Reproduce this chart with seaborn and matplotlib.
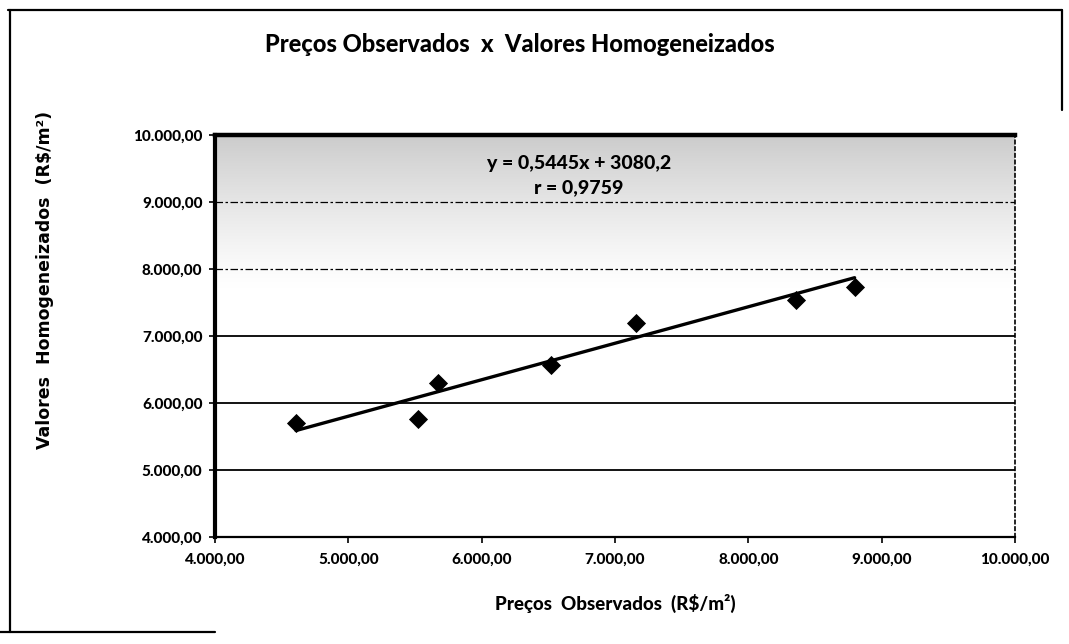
import numpy as np
import pandas as pd
import matplotlib
matplotlib.use("Agg")
import matplotlib.pyplot as plt
from matplotlib.lines import Line2D
import seaborn as sns

# Observed prices vs. homogenized values (R$/m²)
precos_observados = [4608, 5524, 5674, 6522, 7161, 8354, 8797]
valores_homogeneizados = [5696, 5757, 6295, 6565, 7193, 7537, 7732]

# Linear trend line as stated in the equation label
coef_angular = 0.5445
coef_linear = 3080.2
coef_r = 0.9759

ticks = [4000, 5000, 6000, 7000, 8000, 9000, 10000]
tick_labels = ["4.000,00", "5.000,00", "6.000,00", "7.000,00",
               "8.000,00", "9.000,00", "10.000,00"]

sns.set_theme(style="white")
plt.rcParams["font.family"] = ["Lato", "DejaVu Sans"]
plt.rcParams["text.color"] = "black"
plt.rcParams["xtick.color"] = "black"
plt.rcParams["ytick.color"] = "black"
plt.rcParams["axes.labelcolor"] = "black"

HEAVY = 900

fig = plt.figure(figsize=(10.69, 6.44), dpi=100)
ax = fig.add_axes([215 / 1069, 1 - 537 / 644, 800 / 1069, 402 / 644])

# Plot area background: gray at the top fading to white
yy = np.linspace(0, 1, 400)[:, None]
shade = np.clip((yy - 0.62) / 0.38, 0, 1) ** 1.2
val = 1 - 0.2 * shade
img = np.repeat(val, 2, axis=1)
rgb = np.dstack([img, img, img])
ax.imshow(rgb, extent=[4000, 10000, 4000, 10000], origin="lower",
          aspect="auto", zorder=0, interpolation="bilinear")

# Horizontal gridlines
for t in ticks[1:-1]:
    if t <= 7000:
        ax.axhline(t, color="black", lw=1.3, zorder=1)
    else:
        ax.axhline(t, color="black", lw=0.9, ls=(0, (6, 2, 2, 2)), zorder=1)

df = pd.DataFrame({"x": precos_observados, "y": valores_homogeneizados})
xl = np.array([min(precos_observados), max(precos_observados)])
trend = pd.DataFrame({"x": xl, "y": coef_angular * xl + coef_linear})
sns.lineplot(data=trend, x="x", y="y", color="black", lw=2.4, ax=ax, zorder=3)
sns.scatterplot(data=df, x="x", y="y", marker="D", s=95, color="black",
                edgecolor="black", linewidth=0, ax=ax, zorder=4)

ax.set_xlim(4000, 10000)
ax.set_ylim(4000, 10000)
ax.set_xticks(ticks)
ax.set_yticks(ticks)
ax.set_xticklabels(tick_labels, fontweight=HEAVY, fontsize=11)
ax.set_yticklabels(tick_labels, fontweight=HEAVY, fontsize=11)
ax.tick_params(axis="both", which="both", length=4, width=1.2, color="black",
               direction="out", pad=5)
ax.tick_params(axis="x", pad=7)
ax.xaxis.set_ticks_position("bottom")
ax.yaxis.set_ticks_position("left")

for side, lw in [("left", 3.0), ("top", 3.2), ("bottom", 1.6), ("right", 1.2)]:
    ax.spines[side].set_visible(True)
    ax.spines[side].set_color("black")
    ax.spines[side].set_linewidth(lw)
ax.spines["right"].set_linestyle((0, (2, 2)))

ax.set_xlabel("Preços  Observados  (R$/m²)", fontweight=HEAVY, fontsize=13.5,
              labelpad=20)
ax.set_ylabel("")
fig.text(45 / 1069, 1 - 280 / 644, "Valores  Homogeneizados  (R$/m²)",
         rotation=90, ha="center", va="center", fontweight="bold",
         fontsize=12.5, family=["DejaVu Sans"])

eq = f"y = {coef_angular:.4f}x + {coef_linear:.1f}".replace(".", ",")
rr = f"r = {coef_r:.4f}".replace(".", ",")
ax.text(0.455, 0.93, eq, transform=ax.transAxes, ha="center", va="center",
        fontweight=HEAVY, fontsize=14)
ax.text(0.455, 0.87, rr, transform=ax.transAxes, ha="center", va="center",
        fontweight=HEAVY, fontsize=14)

fig.text(520 / 1069, 1 - 45 / 644,
         "Preços Observados  x  Valores Homogeneizados",
         ha="center", va="center", fontweight=HEAVY, fontsize=17)

# Outer chart border
border = dict(color="black", lw=1.6, transform=fig.transFigure)
W, H = 1069, 644
fig.add_artist(Line2D([8 / W, 1062 / W], [1 - 10 / H, 1 - 10 / H], **border))
fig.add_artist(Line2D([10 / W, 10 / W], [1 - 10 / H, 1 - 632 / H], **border))
fig.add_artist(Line2D([0, 215 / W], [1 - 632 / H, 1 - 632 / H], **border))
fig.add_artist(Line2D([1062 / W, 1062 / W], [1 - 10 / H, 1 - 110 / H], **border))

fig.savefig("out.png", dpi=100)
